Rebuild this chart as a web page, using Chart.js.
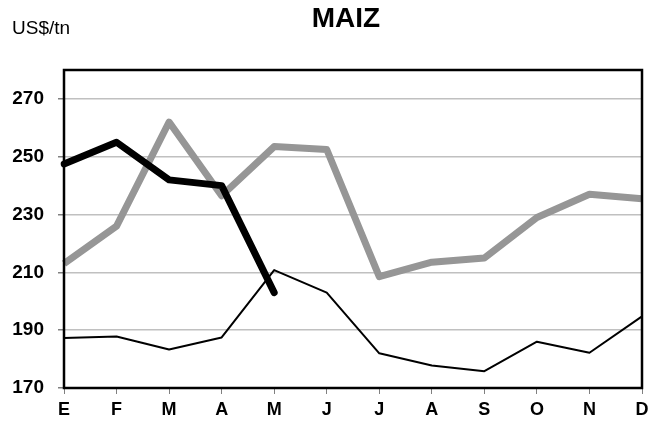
<!DOCTYPE html>
<html>
<head>
<meta charset="utf-8">
<script src="https://cdn.jsdelivr.net/npm/chart.js@4"></script>
<style>
  html, body { margin: 0; padding: 0; background: #fff; }
  #wrap { width: 660px; height: 424px; }
</style>
</head>
<body>
<div id="wrap"><canvas id="chart" width="660" height="424"></canvas></div>
<script>
// meses (E = enero ... D = diciembre)
const months = ["E", "F", "M", "A", "M", "J", "J", "A", "S", "O", "N", "D"];

// precios US$/tn
const thickBlack = [247.5, 255, 242, 240, 203];
const grayLine = [213, 226, 262, 236.5, 253.5, 252.5, 208.5, 213.5, 215, 229, 237, 235.5];
const thinBlack = [187.3, 187.8, 183.3, 187.5, 210.8, 203, 182, 177.8, 175.8, 186, 182.2, 194.8];

const yTicks = [170, 190, 210, 230, 250, 270];
const yMin = 170;
const yMax = 280;

const chartTitle = "MAIZ";
const unitLabel = "US$/tn";

// titulo, unidad y marco del grafico
const decorations = {
    id: "decorations",
    afterDatasetsDraw(chart) {
        const ctx = chart.ctx;
        const area = chart.chartArea;
        ctx.save();
        ctx.strokeStyle = "#000";
        ctx.lineWidth = 2.5;
        ctx.strokeRect(area.left, area.top, area.right - area.left, area.bottom - area.top);
        ctx.restore();
    },
    afterDraw(chart) {
        const ctx = chart.ctx;
        ctx.save();
        ctx.fillStyle = "#000";
        ctx.textBaseline = "alphabetic";
        ctx.font = "bold 28px 'Liberation Sans', Arial, sans-serif";
        ctx.textAlign = "center";
        ctx.fillText(chartTitle, 346, 27);
        ctx.font = "19px 'Liberation Sans', Arial, sans-serif";
        ctx.textAlign = "left";
        ctx.fillText(unitLabel, 12, 34);
        ctx.restore();
    }
};

new Chart(document.getElementById("chart"), {
    type: "line",
    data: {
        labels: months,
        datasets: [
            {
                label: "actual",
                data: thickBlack,
                borderColor: "#000",
                borderWidth: 7,
                borderCapStyle: "round",
                borderJoinStyle: "round",
            },
            {
                label: "anterior",
                data: grayLine,
                borderColor: "#969696",
                borderWidth: 7,
                borderJoinStyle: "round",
            },
            {
                label: "hace dos",
                data: thinBlack,
                borderColor: "#000",
                borderWidth: 2,
                borderJoinStyle: "round",
            },
        ],
    },
    options: {
        responsive: false,
        animation: false,
        layout: {
            padding: { top: 70, left: 12, right: 18, bottom: 3 },
        },
        elements: {
            point: { radius: 0 },
            line: { tension: 0 },
        },
        plugins: {
            legend: { display: false },
            tooltip: { enabled: false },
        },
        scales: {
            x: {
                offset: false,
                border: { display: false },
                afterFit(scale) {
                    scale.height = 33;
                },
                grid: {
                    drawOnChartArea: false,
                    tickLength: 6,
                    tickColor: "#808080",
                },
                ticks: {
                    color: "#000",
                    padding: 5,
                    font: { family: "'Liberation Sans', Arial", size: 18, weight: "bold" },
                    autoSkip: false,
                    maxRotation: 0,
                },
            },
            y: {
                min: yMin,
                max: yMax,
                border: { display: false },
                afterBuildTicks(scale) {
                    scale.ticks = yTicks.map(v => ({ value: v }));
                },
                afterFit(scale) {
                    scale.width = 52;
                },
                grid: {
                    color: "#c0c0c0",
                    lineWidth: 1.5,
                    tickLength: 6,
                    tickColor: "#808080",
                },
                ticks: {
                    color: "#000",
                    padding: 14,
                    font: { family: "'Liberation Sans', Arial", size: 19, weight: "bold" },
                },
            },
        },
    },
    plugins: [decorations],
});
</script>
</body>
</html>
